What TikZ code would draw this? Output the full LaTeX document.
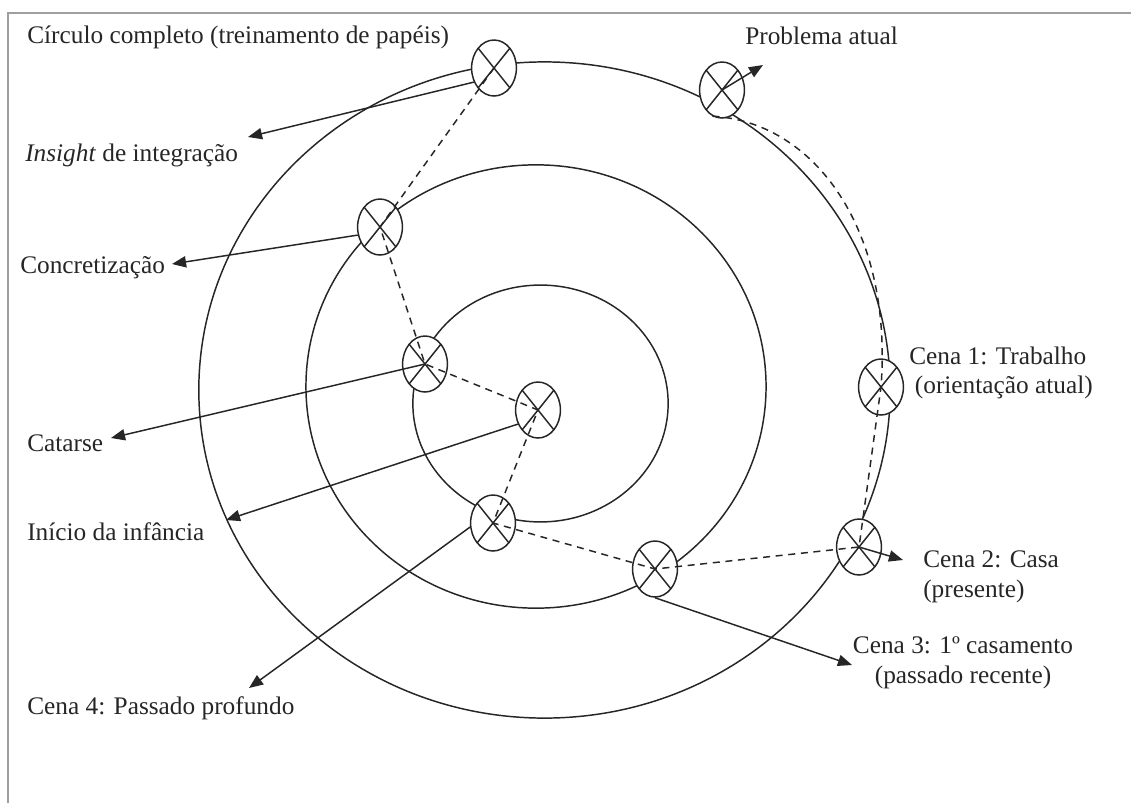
\documentclass[tikz,border=0pt]{standalone}
\usepackage{fontspec}
\setmainfont{Liberation Serif}
\usetikzlibrary{arrows.meta,shapes.geometric}

\begin{document}
\begin{tikzpicture}[
    x=0.025cm, y=-0.025cm,
    font=\fontsize{18}{21}\selectfont,
    ring/.style={draw=black!85, line width=1.05pt},
    xball/.style={draw=black!85, ellipse, fill=white, line width=1.05pt, inner sep=0pt, minimum width=1.12cm, minimum height=1.4cm,
        path picture={\draw[black!85, line width=1.05pt] (path picture bounding box.north west) -- (path picture bounding box.south east) (path picture bounding box.north east) -- (path picture bounding box.south west);}},
    trilha/.style={draw=black!85, line width=1.05pt, dash pattern=on 5pt off 4pt},
    seta/.style={draw=black!85, line width=1.05pt, -{Triangle[length=10pt, width=8pt]}},
    rotulo/.style={anchor=west, inner sep=0pt, text=black!85, align=left},
    moldura/.style={draw=gray!75, line width=2pt}
]
    \useasboundingbox (0,0) rectangle (1131,803);

    % Moldura (topo e lado esquerdo)
    \draw[moldura] (1131,13) -- (8,13) -- (8,803);

    % Circulos concentricos
    \draw[ring] (544.5,390) ellipse [x radius=8.64cm, y radius=8.2cm];
    \draw[ring] (536,386.5) ellipse [x radius=5.75cm, y radius=5.54cm];
    \draw[ring] (540.5,403.5) ellipse [x radius=3.19cm, y radius=2.96cm];

    % Cenas (marcadores)
    \node[xball] (topo) at (494,68)  {};
    \node[xball] (prob) at (722,90)  {};
    \node[xball] (c1)   at (881,387) {};
    \node[xball] (c2)   at (859,547) {};
    \node[xball] (c3)   at (655,569) {};
    \node[xball] (c4)   at (493,523) {};
    \node[xball] (ini)  at (538,410) {};
    \node[xball] (cat)  at (425,364) {};
    \node[xball] (conc) at (380,227) {};

    % Trajeto tracejado
    \draw[trilha] (topo.center) -- (conc.center) -- (cat.center) -- (ini.center) -- (c4.center) -- (c3.center) -- (c2.center) -- (c1.center);
    \draw[trilha] (prob.250) .. controls (815,122) and (893,230) .. (c1.center);

    % Rotulos
    \node[rotulo] (lcirc) at (27,37)  {Círculo completo (treinamento de papéis)};
    \node[rotulo] (lins)  at (25,155) {\textit{Insight} de integração};
    \node[rotulo] (lconc) at (20,268) {Concretização};
    \node[rotulo] (lcat)  at (27,443) {Catarse};
    \node[rotulo] (lini)  at (27,532) {Início da infância};
    \node[rotulo] (lc4)   at (27,708) {Cena 4: Passado profundo};
    \node[rotulo] (lprob) at (745,36) {Problema atual};
    \node[rotulo] (lc1)   at (909,373) {Cena 1: Trabalho\\\hspace*{4pt}(orientação atual)};
    \node[rotulo] (lc2)   at (923,577) {Cena 2: Casa\\(presente)};
    \node[rotulo, anchor=center, align=center] (lc3) at (963,663) {Cena 3: 1º casamento\\(passado recente)};

    % Pontas das setas
    \coordinate (pIns)  at (248,137);
    \coordinate (pConc) at (172,264);
    \coordinate (pCat)  at (111,438);
    \coordinate (pIni)  at (226,520);
    \coordinate (pC4)   at (249,688);
    \coordinate (pC3)   at (852,665);
    \coordinate (pC2)   at (903,560);
    \coordinate (pProb) at (763,65);

    \draw[seta] (topo.215)    -- (pIns);
    \draw[seta] (conc.200)    -- (pConc);
    \draw[seta] (cat.center)  -- (pCat);
    \draw[seta] (ini.215)     -- (pIni);
    \draw[seta] (c4.190)      -- (pC4);
    \draw[seta] (c3.south)    -- (pC3);
    \draw[seta] (c2.center)   -- (pC2);
    \draw[seta] (prob.center) -- (pProb);
\end{tikzpicture}
\end{document}
